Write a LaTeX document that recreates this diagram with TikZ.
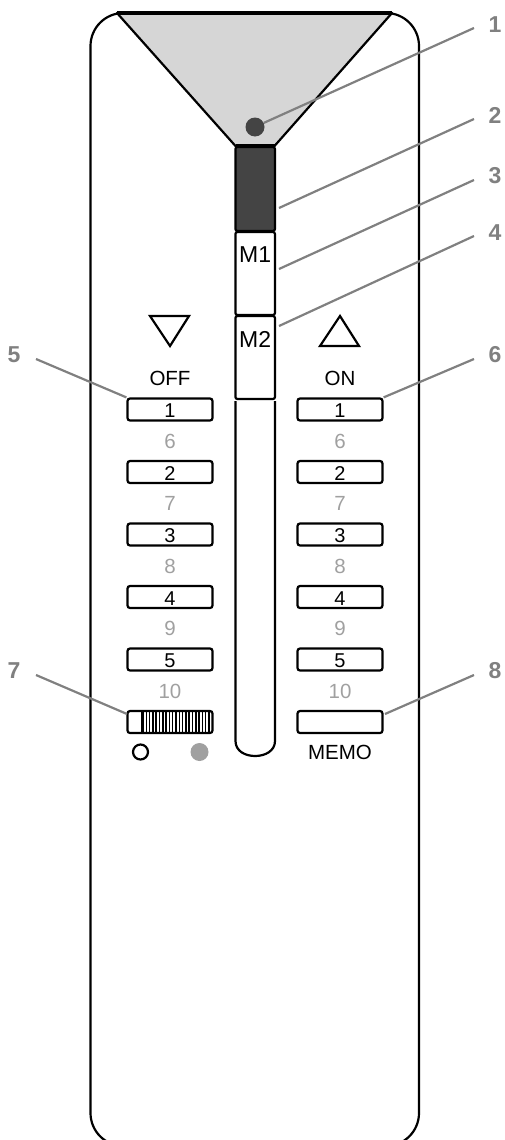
\documentclass[tikz,border=0pt]{standalone}
\usepackage{xcolor}
\usepackage{fontspec}
\setmainfont{Liberation Sans}
\usetikzlibrary{positioning}
\definecolor{panelgray}{RGB}{214,214,214}
\definecolor{darkgray}{RGB}{68,68,68}
\definecolor{leadgray}{RGB}{128,128,128}
\definecolor{numgray}{RGB}{160,160,160}
\tikzset{
  outline/.style={draw=black, line width=2.2pt},
  keybox/.style={outline, fill=white, rounded corners=2.5pt, minimum width=85pt, minimum height=22pt, inner sep=0pt, font=\fontsize{20}{20}\selectfont, text height=16pt, text depth=0pt},
  slidebox/.style={outline, fill=white, rounded corners=2pt, minimum width=39.5pt, minimum height=83pt, inner sep=0pt},
  leader/.style={draw=leadgray, line width=2.2pt},
  leadnum/.style={text=leadgray, font=\fontsize{23}{23}\selectfont\bfseries, inner sep=0pt},
  keytext/.style={font=\fontsize{20.5}{20.5}\selectfont, inner sep=0pt},
  numtext/.style={keytext, text=numgray}
}

\begin{document}
\begin{tikzpicture}[x=1pt,y=-1pt]
  \useasboundingbox (0,0) rectangle (504,1140);
  % housing and window
  \draw[outline, rounded corners=33pt] (90.5,13) rectangle (419,1146);
  \draw[outline, fill=panelgray, line join=round] (117,13) -- (392,13) -- (274.5,146) -- (235.5,146) -- cycle;
  \draw[black, line width=4pt] (117,13) -- (392,13);
  \draw[black, line width=4pt] (235.5,146) -- (274.5,146);
  \node[circle, fill=darkgray, minimum size=19pt, inner sep=0pt] (dot) at (255,127) {};
  % slider
  \node[outline, fill=darkgray, rounded corners=2pt, minimum width=39.5pt, minimum height=84pt, inner sep=0pt] (shade) at (255.2,189) {};
  \node[slidebox] (mone) at (255.2,273.5) {};
  \node[slidebox] (mtwo) at (255.2,357.5) {};
  \node[keytext, font=\fontsize{23}{23}\selectfont] (monetext) at (255.2,255) {M1};
  \node[keytext, font=\fontsize{23}{23}\selectfont] (mtwotext) at (255.2,339) {M2};
  \draw[outline] (235.5,401) -- (235.5,741) .. controls (235.5,751) and (245,756) .. (255.2,756) .. controls (265,756) and (275,751) .. (275,741) -- (275,401);
  % arrows
  \draw[outline, line join=miter] (150,316) -- (189,316) -- (170,346) -- cycle;
  \draw[outline, line join=miter] (320,346) -- (359,346) -- (340,316) -- cycle;
  \node[keytext] (off) at (170,378) {OFF};
  \node[keytext] (on) at (340,378) {ON};
  % keys
  \foreach \i/\j/\y in {1/6/409.5, 2/7/472, 3/8/534.5, 4/9/597, 5/10/659.5} {
    \node[keybox] (off\i) at (170,\y) {\i};
    \node[keybox] (on\i) at (340,\y) {\i};
    \node[numtext] (offn\j) at (170,\y+31.5) {\j};
    \node[numtext] (onn\j) at (340,\y+31.5) {\j};
  }
  \node[keybox] (dial) at (170,722) {};
  \node[keybox] (memo) at (340,722) {};
  \foreach \x in {143,146.3,...,211} {
    \draw[black, line width=1.5pt] (\x,712) -- (\x,732);
  }
  \draw[outline] (142,711) -- (142,733);
  \node[circle, outline, minimum size=15pt, inner sep=0pt] (openc) at (140.5,752) {};
  \node[circle, fill=numgray, minimum size=18pt, inner sep=0pt] (fillc) at (199.5,752) {};
  \node[keytext] (memotext) at (340,752) {MEMO};
  % callouts
  \node[leadnum] (n1) at (495,25) {1};
  \node[leadnum] (n2) at (495,115) {2};
  \node[leadnum] (n3) at (495,176) {3};
  \node[leadnum] (n4) at (495,233) {4};
  \node[leadnum] (n5) at (14,355) {5};
  \node[leadnum] (n6) at (495,355) {6};
  \node[leadnum] (n7) at (14,671) {7};
  \node[leadnum] (n8) at (495,671) {8};
  \coordinate (e1) at (474,28);
  \coordinate (e2) at (474,119);
  \coordinate (e3) at (474,180);
  \coordinate (e4) at (474,236);
  \coordinate (e5) at (36,359);
  \coordinate (e6) at (474,359);
  \coordinate (e7) at (36,675);
  \coordinate (e8) at (474,675);
  \coordinate (s2) at (279,208);
  \coordinate (s3) at (279,269);
  \coordinate (s4) at (279,326);
  \coordinate (s7) at (127,714);
  \coordinate (s8) at (385,714);
  \draw[leader] (e1) -- (dot.25);
  \draw[leader] (e2) -- (s2);
  \draw[leader] (e3) -- (s3);
  \draw[leader] (e4) -- (s4);
  \draw[leader] (e5) -- (off1.north west);
  \draw[leader] (e6) -- (on1.north east);
  \draw[leader] (e7) -- (s7);
  \draw[leader] (e8) -- (s8);
\end{tikzpicture}
\end{document}
